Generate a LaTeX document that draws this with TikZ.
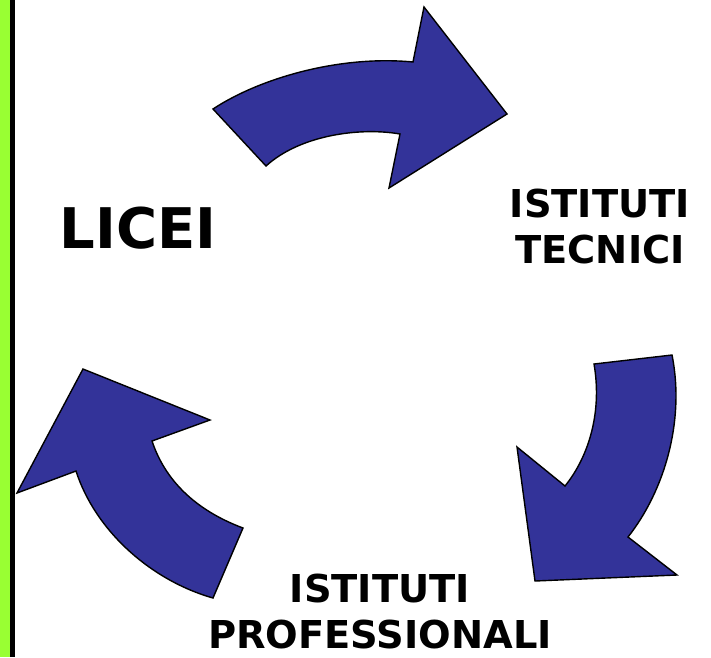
\documentclass[tikz,border=0pt]{standalone}
\usepackage{fontspec}
\setmainfont{DejaVu Sans}
\definecolor{barGreen}{RGB}{153,255,51}
\definecolor{arrowBlue}{RGB}{51,51,153}
\begin{document}
\begin{tikzpicture}[x=1pt,y=-1pt,
  bigarrow/.style={fill=arrowBlue,draw=black,line width=1.4pt,line join=miter},
  label/.style={font=\bfseries\fontsize{38.4}{46}\selectfont,align=center,inner sep=0pt},
  biglabel/.style={font=\bfseries\fontsize{56}{60}\selectfont,inner sep=0pt}]
\useasboundingbox (0,0) rectangle (711,657);
\fill[white] (0,0) rectangle (711,657);
% left bar
\fill[barGreen] (0,0) rectangle (10,657);
\fill[black] (10,0) rectangle (15,657);
% top arrow
\path[bigarrow] (213,109) .. controls (260,78) and (340,55) .. (413,62) -- (424,7) -- (507,114) -- (389,188) -- (400,134) .. controls (360,127) and (300,135) .. (266,166) -- cycle;
% right arrow
\path[bigarrow] (672,355) .. controls (685,420) and (665,490) .. (628,537) -- (677,575) -- (535,581) -- (517,447) -- (565,486) .. controls (590,455) and (602,410) .. (594,364) -- cycle;
% left arrow
\path[bigarrow] (243,528) .. controls (195,510) and (165,480) .. (152,441) -- (210,420) -- (83,369) -- (17,493) -- (76,471) .. controls (95,530) and (150,580) .. (213,598) -- cycle;
% labels
\node[biglabel] (licei) at (138,228) {LICEI};
\node[label] (tecnici) at (600,226.5) {ISTITUTI\\TECNICI};
\node[label] (prof) at (380,612) {ISTITUTI\\PROFESSIONALI};
\end{tikzpicture}
\end{document}
